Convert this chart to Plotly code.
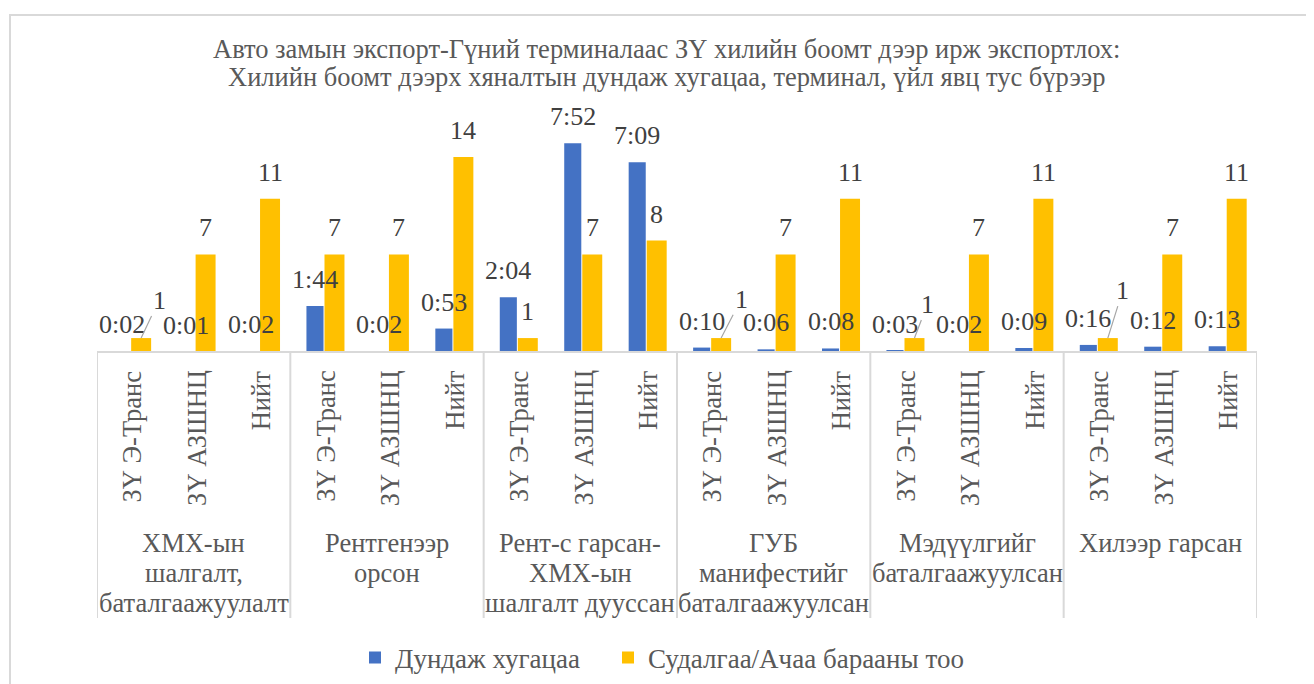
import plotly.graph_objects as go

# ---------------------------------------------------------------- data
groups = ['ХМХ-ын<br>шалгалт,<br>баталгаажуулалт',
          'Рентгенээр<br>орсон',
          'Рент-с гарсан-<br>ХМХ-ын<br>шалгалт дууссан',
          'ГУБ<br>манифестийг<br>баталгаажуулсан',
          'Мэдүүлгийг<br>баталгаажуулсан',
          'Хилээр гарсан']
terminals = ['ЗҮ Э-Транс', 'ЗҮ АЗШНЦ', 'Нийт']

# average time, minutes
avg_minutes = [2, 1, 2,
               104, 2, 53,
               124, 472, 429,
               10, 6, 8,
               3, 2, 9,
               16, 12, 13]
# number of inspections / cargo
cargo_count = [1, 7, 11,
               7, 7, 14,
               1, 7, 8,
               1, 7, 11,
               1, 7, 11,
               1, 7, 11]

title_lines = ['Авто замын экспорт-Гүний терминалаас ЗҮ хилийн боомт дээр ирж экспортлох:',
               'Хилийн боомт дээрх хяналтын дундаж хугацаа, терминал, үйл явц тус бүрээр']
series_names = ['Дундаж хугацаа', 'Судалгаа/Ачаа барааны тоо']

# ---------------------------------------------------------------- style
FONT = 'Liberation Serif'
BLUE = '#4472C4'
YELLOW = '#FFC000'
GRID = '#D9D9D9'
LABEL = '#404040'
TEXT = '#595959'
FS = 26.5

# the page body adds an 8px margin, so the figure is a bit smaller than the window
W, H = 1306, 676

BLUE_OFF, BLUE_W = -0.25, 0.265
YEL_OFF, YEL_W = 0.03, 0.31

# labels pulled away from the bar with a leader line: index -> (ax, ay)
leaders = {0: (18, -38), 9: (20, -39), 12: (13, -34), 15: (15, -48)}

n = len(avg_minutes)
xs = list(range(n))


def hmm(m):
    return f'{m // 60}:{m % 60:02d}'


fig = go.Figure()
fig.add_trace(go.Bar(x=xs, y=avg_minutes, name=series_names[0], yaxis='y', legend='legend',
                     offset=BLUE_OFF, width=BLUE_W, marker=dict(color=BLUE, line_width=0)))
fig.add_trace(go.Bar(x=xs, y=cargo_count, name=series_names[1], yaxis='y2', legend='legend2',
                     offset=YEL_OFF, width=YEL_W, marker=dict(color=YELLOW, line_width=0)))

ann = []
# title, one annotation per line
for k, line in enumerate(title_lines):
    ann.append(dict(x=0.491, y=1, xref='paper', yref='paper', text=line, showarrow=False,
                    xanchor='center', yanchor='middle', yshift=51 - 28 * k,
                    font=dict(family=FONT, size=FS, color=TEXT)))

# data labels
for i in xs:
    ann.append(dict(x=i + BLUE_OFF + BLUE_W / 2, y=avg_minutes[i], xref='x', yref='y',
                    text=hmm(avg_minutes[i]), showarrow=False, yanchor='bottom', yshift=10,
                    font=dict(family=FONT, size=26, color=LABEL)))
    if i in leaders:
        ax, ay = leaders[i]
        ann.append(dict(x=i + YEL_OFF + YEL_W / 2, y=cargo_count[i], xref='x', yref='y2',
                        text=str(cargo_count[i]), showarrow=True, arrowhead=0, arrowwidth=1.2,
                        arrowcolor='#A6A6A6', ax=ax, ay=ay, standoff=0,
                        font=dict(family=FONT, size=26, color=LABEL)))
    else:
        ann.append(dict(x=i + YEL_OFF + YEL_W / 2, y=cargo_count[i], xref='x', yref='y2',
                        text=str(cargo_count[i]), showarrow=False, yanchor='bottom', yshift=10,
                        font=dict(family=FONT, size=26, color=LABEL)))

# inner category labels (rotated)
for i in xs:
    ann.append(dict(x=i + 0.05, y=0, xref='x', yref='paper', text=terminals[i % 3],
                    showarrow=False, textangle=-90, yanchor='top', yshift=-16,
                    font=dict(family=FONT, size=FS, color=TEXT)))
# outer category labels, one annotation per line for Excel-like line spacing
for g, name in enumerate(groups):
    for k, line in enumerate(name.split('<br>')):
        ann.append(dict(x=g * 3 + 1, y=0, xref='x', yref='paper', text=line,
                        showarrow=False, yanchor='middle', yshift=-191 - 30 * k,
                        font=dict(family=FONT, size=FS, color=TEXT)))

# category table lines
shapes = [dict(type='line', xref='x', yref='paper', x0=-0.5, x1=n - 0.5, y0=0, y1=0,
               line=dict(color=GRID, width=2))]
for g in range(len(groups) + 1):
    shapes.append(dict(type='line', xref='x', yref='paper', x0=g * 3 - 0.5, x1=g * 3 - 0.5,
                       y0=0, y1=-1.056, line=dict(color=GRID, width=2)))
# chart frame
shapes.append(dict(type='rect', xref='paper', yref='paper', x0=-0.075, x1=1.06,
                   y0=-1.4, y1=1.337, line=dict(color=GRID, width=2), layer='below'))

legend_style = dict(orientation='h', xref='container', yref='container', xanchor='left',
                    y=1 - 650 / H, yanchor='middle', itemwidth=30,
                    font=dict(family=FONT, size=27, color=TEXT))

fig.update_layout(
    width=W, height=H,
    margin=dict(l=89, r=57, t=92, b=332, autoexpand=False),
    paper_bgcolor='white', plot_bgcolor='white',
    barmode='overlay',
    xaxis=dict(range=[-0.5, n - 0.5], visible=False),
    yaxis=dict(range=[0, 569.5], visible=False),
    yaxis2=dict(range=[0, 18.09], visible=False, overlaying='y'),
    legend=dict(x=347 / W, **legend_style),
    legend2=dict(x=600 / W, **legend_style),
    annotations=ann,
    shapes=shapes,
    showlegend=True,
)

fig.write_html('out.html')
